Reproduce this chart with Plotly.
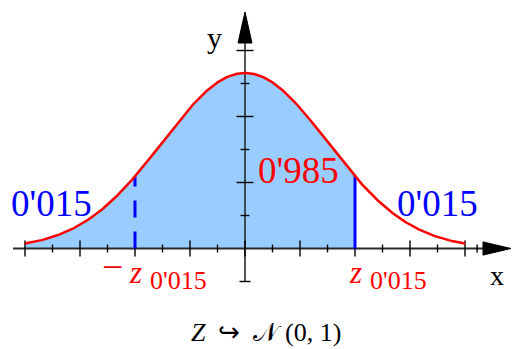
import numpy as np
import plotly.graph_objects as go

# ---- data -------------------------------------------------------------
# standard normal bell drawn on a schematic axis (x in tick units)
PEAK = 5.32          # height of the bell at x = 0
SPREAD = 1.5         # horizontal spread of the bell
X_START, X_END = -4.0, 4.0
Z_CRIT = 2.0         # position of the critical value z_0'015
AREA_TAIL = "0'015"
AREA_BODY = "0'985"

X_MAJOR = [-4, -3, -2, -1, 0, 1, 2, 3, 4]
X_MINOR = [-3.5, -2.5, -1.5, -0.5, 0.5, 1.5, 2.5, 3.5, 4.22]
Y_MAJOR = [2, 4, 6]
Y_MINOR = [1, 3, 5]
Y_LOW = [-1]


def bell(x):
    return PEAK * np.exp(-np.asarray(x) ** 2 / (2 * SPREAD ** 2))


xs = np.linspace(X_START, X_END, 401)
xs_fill = np.linspace(X_START, Z_CRIT, 301)

RED = "#ff0000"
BLUE = "#0000ff"
FILL = "#99ccff"
AXIS = "#2a2a2a"
SERIF = "Liberation Serif, Times New Roman, serif"

X_RANGE = [-4.4545, 4.8545]
Y_RANGE = [-3.0455, 7.5303]
X_AXIS_FROM, X_AXIS_TO, X_TIP = -4.218, 4.327, 4.836
Y_AXIS_FROM, Y_AXIS_TO, Y_TIP = -1.015, 6.227, 7.167


def segs(pairs):
    xx, yy = [], []
    for (x0, y0), (x1, y1) in pairs:
        xx += [x0, x1, None]
        yy += [y0, y1, None]
    return xx, yy


fig = go.Figure()

# shaded area under the curve up to z
fig.add_trace(go.Scatter(x=xs_fill, y=bell(xs_fill), mode="lines",
                         line=dict(width=0, color=FILL), fill="tozeroy",
                         fillcolor=FILL, hoverinfo="skip"))

# axes
fig.add_trace(go.Scatter(x=[X_AXIS_FROM, X_AXIS_TO], y=[0, 0], mode="lines",
                         line=dict(color=AXIS, width=2), hoverinfo="skip"))
fig.add_trace(go.Scatter(x=[0, 0], y=[Y_AXIS_FROM, Y_AXIS_TO], mode="lines",
                         line=dict(color=AXIS, width=1.6), hoverinfo="skip"))

# tick marks
tx, ty = segs([((t, -0.24), (t, 0.24)) for t in X_MAJOR]
              + [((t, -0.12), (t, 0.12)) for t in X_MINOR]
              + [((-0.155, t), (0.155, t)) for t in Y_MAJOR]
              + [((-0.08, t), (0.08, t)) for t in Y_MINOR]
              + [((-0.1, t), (0.1, t)) for t in Y_LOW])
fig.add_trace(go.Scatter(x=tx, y=ty, mode="lines",
                         line=dict(color="#000000", width=1.4), hoverinfo="skip"))

# arrow heads
fig.add_trace(go.Scatter(x=[X_AXIS_TO, X_TIP, X_AXIS_TO, X_AXIS_TO],
                         y=[0.2, 0, -0.2, 0.2], mode="lines", fill="toself",
                         fillcolor="#000000", line=dict(color="#000000", width=1),
                         hoverinfo="skip"))
fig.add_trace(go.Scatter(x=[-0.127, 0, 0.127, -0.127],
                         y=[Y_AXIS_TO, Y_TIP, Y_AXIS_TO, Y_AXIS_TO], mode="lines",
                         fill="toself", fillcolor="#000000",
                         line=dict(color="#000000", width=1), hoverinfo="skip"))

# critical value markers
zc = float(bell(Z_CRIT))
fig.add_trace(go.Scatter(x=[-Z_CRIT, -Z_CRIT], y=[0, zc], mode="lines",
                         line=dict(color=BLUE, width=3, dash="17px,14px"),
                         hoverinfo="skip"))
fig.add_trace(go.Scatter(x=[Z_CRIT, Z_CRIT], y=[0, zc], mode="lines",
                         line=dict(color=BLUE, width=3), hoverinfo="skip"))

# density curve
fig.add_trace(go.Scatter(x=xs, y=bell(xs), mode="lines",
                         line=dict(color=RED, width=2.5), hoverinfo="skip"))


def label(x, y, text, size, color, italic=False, family=SERIF):
    fig.add_annotation(x=x, y=y, xref="x", yref="y", text=text, showarrow=False,
                       xanchor="center", yanchor="middle",
                       font=dict(family=family, size=size, color=color,
                                 style="italic" if italic else "normal"))


NB = "\u00a0"
label(-3.52, 1.364, AREA_TAIL, 37, BLUE)
label(3.5, 1.364, AREA_TAIL, 37, BLUE)
label(0.98, 2.36, AREA_BODY, 37, RED)
label(-2.41, -0.55, "−", 38, RED)
label(-Z_CRIT, -0.73, "z", 31, RED, italic=True)
label(Z_CRIT, -0.73, "z", 31, RED, italic=True)
label(-Z_CRIT + 0.79, -0.98, AREA_TAIL, 26, RED)
label(Z_CRIT + 0.79, -0.98, AREA_TAIL, 26, RED)
label(-0.56, 6.39, "y", 30, "#000000")
label(4.59, -0.83, "x", 28, "#000000")
label(0.38, -2.55,
      f"<i>Z</i>{NB}{NB}↪{NB}{NB}𝒩{NB}(0,{NB}1)", 26, "#000000")

fig.update_layout(
    width=512, height=349, autosize=False,
    margin=dict(l=0, r=0, t=0, b=0),
    paper_bgcolor="white", plot_bgcolor="white",
    showlegend=False,
    xaxis=dict(range=X_RANGE, visible=False, fixedrange=True),
    yaxis=dict(range=Y_RANGE, visible=False, fixedrange=True),
)

fig.write_html("out.html")
